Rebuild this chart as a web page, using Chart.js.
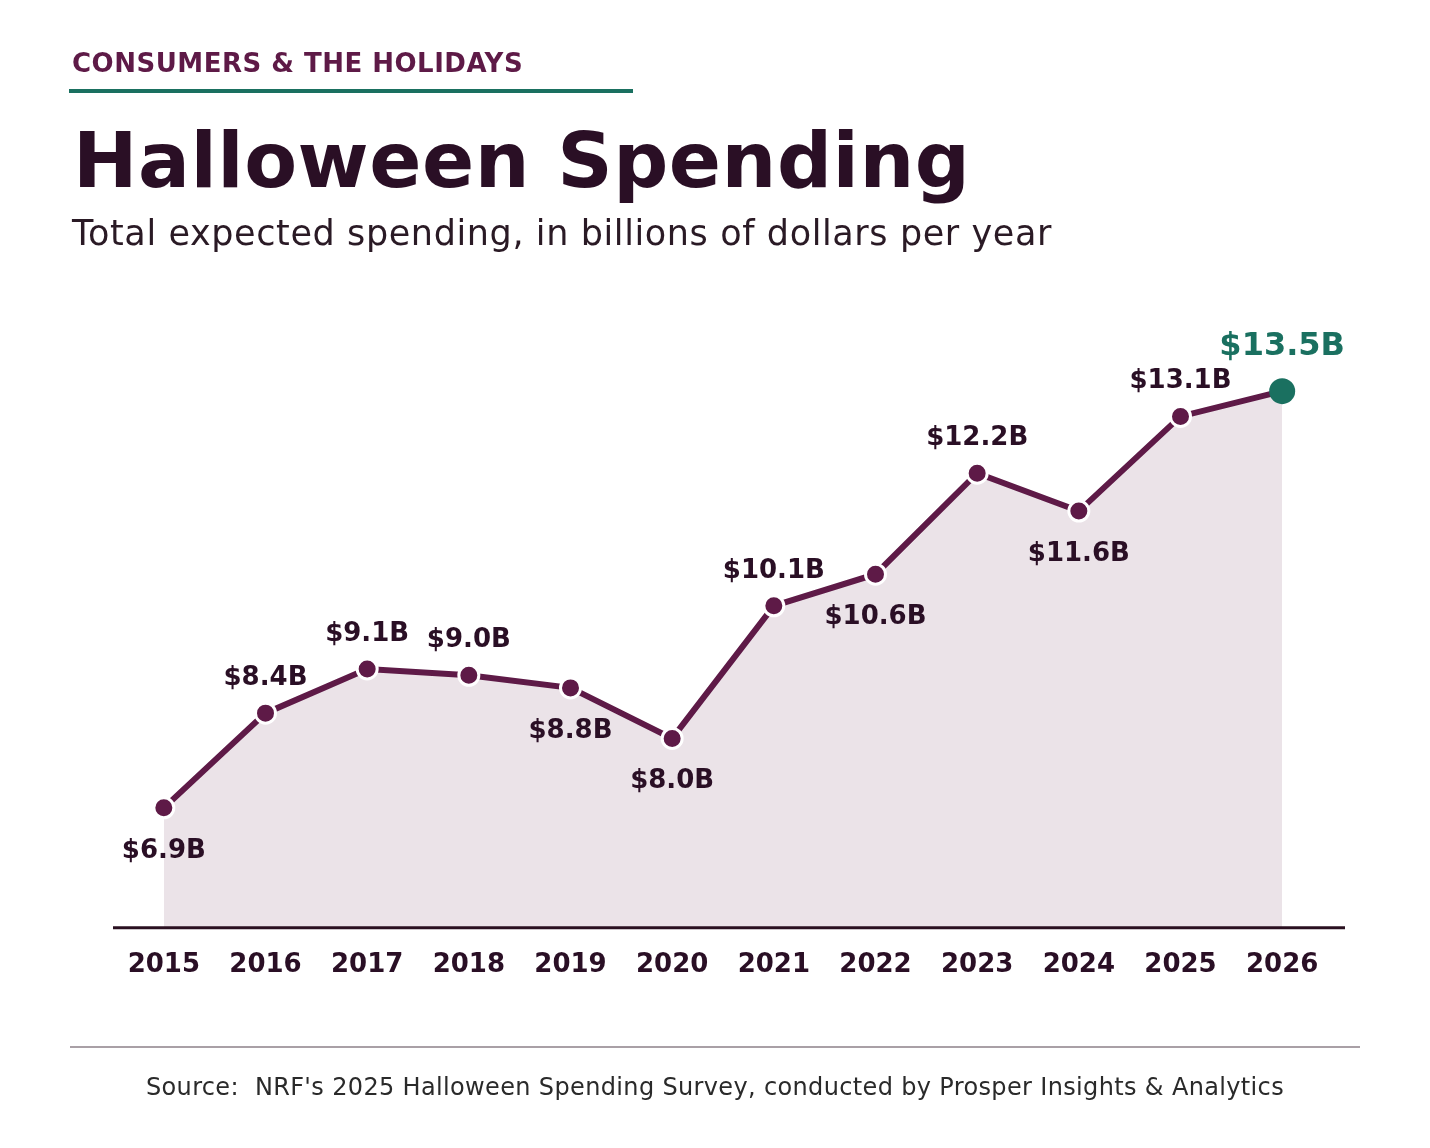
<!DOCTYPE html>
<html lang="en">
<head>
<meta charset="UTF-8">
<title>Halloween Spending</title>
<script src="https://cdn.jsdelivr.net/npm/chart.js"></script>
<style>
    * { margin: 0; padding: 0; box-sizing: border-box; }
    body { width: 1430px; height: 1148px; background: #fff; font-family: "DejaVu Sans", sans-serif; position: relative; overflow: hidden; }
    #wrap { position: absolute; left: 0; top: 0; width: 1430px; height: 1148px; }
    .kicker { position: absolute; left: 72px; top: 48px; font-size: 26px; font-weight: bold; color: #5e1a47; letter-spacing: 0.5px; }
    .kline { position: absolute; left: 69px; top: 89px; width: 564px; height: 4px; background: #1a7060; }
    .title { position: absolute; left: 73px; top: 116px; font-size: 77px; font-weight: bold; color: #2a0f25; letter-spacing: 0.5px; }
    .sub { position: absolute; left: 72px; top: 213px; font-size: 35px; color: #2a1a25; letter-spacing: 0.6px; }
    .bline { position: absolute; left: 70px; top: 1046px; width: 1290px; height: 2px; background: #a9a0a6; }
    .source { position: absolute; left: 0; width: 1430px; top: 1073px; text-align: center; font-size: 24px; color: #2a2a2a; letter-spacing: 0.35px; }
</style>
</head>
<body>
<div id="wrap"><canvas id="c"></canvas></div>
<div class="kicker">CONSUMERS &amp; THE HOLIDAYS</div>
<div class="kline"></div>
<div class="title">Halloween Spending</div>
<div class="sub">Total expected spending, in billions of dollars per year</div>
<div class="bline"></div>
<div class="source">Source:&nbsp; NRF's 2025 Halloween Spending Survey, conducted by Prosper Insights &amp; Analytics</div>

<script>
    // data
    var years = ['2015','2016','2017','2018','2019','2020','2021','2022','2023','2024','2025','2026'];
    var spending = [6.9, 8.4, 9.1, 9.0, 8.8, 8.0, 10.1, 10.6, 12.2, 11.6, 13.1, 13.5];
    var labelBelow = [true, false, false, false, true, true, false, true, false, true, false, false];

    var plum = '#5e1a47';
    var teal = '#1a7060';

    // value labels and baseline
    var extras = {
        id: 'extras',
        afterDatasetsDraw: function (chart) {
            var ctx = chart.ctx;
            var area = chart.chartArea;
            ctx.save();
            ctx.strokeStyle = '#2a1020';
            ctx.lineWidth = 3;
            ctx.beginPath();
            ctx.moveTo(area.left, area.bottom);
            ctx.lineTo(area.right + 12, area.bottom);
            ctx.stroke();

            var meta = chart.getDatasetMeta(0);
            ctx.textAlign = 'center';
            meta.data.forEach(function (pt, i) {
                var last = i === spending.length - 1;
                ctx.font = 'bold ' + (last ? 32 : 26) + 'px "DejaVu Sans"';
                ctx.fillStyle = last ? teal : '#2a0f25';
                var txt = '$' + spending[i].toFixed(1) + 'B';
                if (labelBelow[i]) {
                    ctx.textBaseline = 'top';
                    ctx.fillText(txt, pt.x, pt.y + 30);
                } else {
                    ctx.textBaseline = 'bottom';
                    ctx.fillText(txt, pt.x, pt.y - (last ? 28 : 22));
                }
            });
            ctx.restore();
        }
    };

    var ctx = document.getElementById('c').getContext('2d');
    new Chart(ctx, {
        type: 'line',
        data: {
            labels: years,
            datasets: [{
                data: spending,
                borderColor: plum,
                borderWidth: 6,
                backgroundColor: '#ebe3e8',
                fill: 'start',
                tension: 0,
                pointRadius: spending.map(function (v, i) { return i === spending.length - 1 ? 13 : 10; }),
                pointBackgroundColor: spending.map(function (v, i) { return i === spending.length - 1 ? teal : plum; }),
                pointBorderColor: '#fff',
                pointBorderWidth: spending.map(function (v, i) { return i === spending.length - 1 ? 0 : 3; })
            }]
        },
        options: {
            responsive: true,
            maintainAspectRatio: false,
            animation: false,
            layout: { padding: { left: 113, right: 97, top: 328, bottom: 153 } },
            plugins: { legend: { display: false }, tooltip: { enabled: false } },
            scales: {
                x: {
                    offset: true,
                    grid: { display: false },
                    border: { display: false },
                    ticks: { color: '#2a0f25', font: { family: 'DejaVu Sans', size: 26, weight: 'bold' }, padding: 14 }
                },
                y: {
                    display: false,
                    min: 5.0,
                    max: 14.5
                }
            }
        },
        plugins: [extras]
    });
</script>
</body>
</html>
